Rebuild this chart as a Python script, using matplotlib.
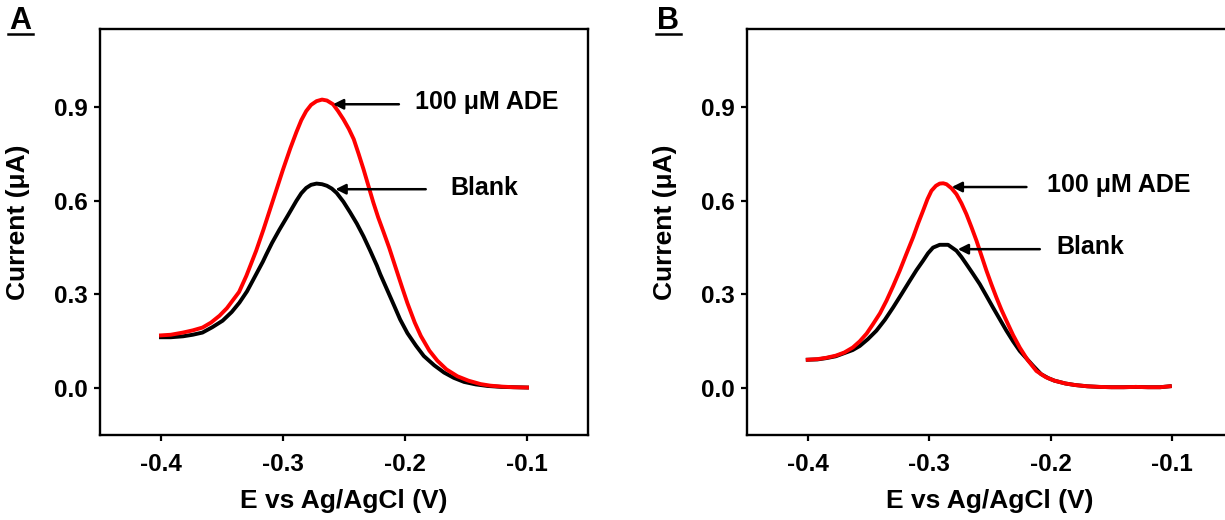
import numpy as np
import matplotlib
matplotlib.use("Agg")
import matplotlib.pyplot as plt
from matplotlib.lines import Line2D

plt.rcParams['font.family'] = ['Liberation Sans', 'DejaVu Sans']
plt.rcParams['font.weight'] = 'bold'
plt.rcParams['axes.unicode_minus'] = False

# ---- panel A data (E in V, current in uA) ----
a_red_x = [-0.400, -0.392, -0.382, -0.374, -0.366, -0.359, -0.352, -0.346, -0.341,
           -0.336, -0.330, -0.322, -0.316, -0.311, -0.305, -0.300, -0.294, -0.289,
           -0.285, -0.281, -0.277, -0.2725, -0.268, -0.264, -0.259, -0.255, -0.2505,
           -0.246, -0.242, -0.238, -0.234, -0.230, -0.226, -0.222, -0.2175, -0.213,
           -0.209, -0.2055, -0.2024, -0.198, -0.192, -0.187, -0.180, -0.1735, -0.166,
           -0.157, -0.148, -0.138, -0.130, -0.121, -0.111, -0.100]
a_red_y = [0.169, 0.171, 0.178, 0.185, 0.194, 0.210, 0.232, 0.256, 0.282,
           0.308, 0.360, 0.440, 0.508, 0.568, 0.640, 0.700, 0.768, 0.820,
           0.858, 0.887, 0.907, 0.919, 0.924, 0.921, 0.909, 0.888, 0.861,
           0.830, 0.797, 0.750, 0.701, 0.648, 0.595, 0.547, 0.499, 0.450,
           0.402, 0.360, 0.323, 0.272, 0.210, 0.167, 0.120, 0.088, 0.060,
           0.038, 0.024, 0.013, 0.008, 0.005, 0.003, 0.002]

a_blk_x = [-0.400, -0.392, -0.382, -0.374, -0.366, -0.358, -0.3495, -0.342, -0.3357,
           -0.3295, -0.3247, -0.3165, -0.3137, -0.309, -0.303, -0.296, -0.289, -0.285,
           -0.281, -0.277, -0.2725, -0.268, -0.264, -0.260, -0.256, -0.2505, -0.245,
           -0.2395, -0.234, -0.2285, -0.223, -0.2203, -0.216, -0.209, -0.204, -0.198,
           -0.191, -0.1846, -0.176, -0.168, -0.160, -0.1516, -0.142, -0.1323, -0.121,
           -0.111, -0.100]
a_blk_y = [0.163, 0.163, 0.166, 0.171, 0.178, 0.195, 0.216, 0.244, 0.274,
           0.310, 0.345, 0.405, 0.428, 0.465, 0.507, 0.553, 0.600, 0.624,
           0.641, 0.651, 0.655, 0.653, 0.648, 0.639, 0.625, 0.597, 0.563,
           0.527, 0.486, 0.440, 0.392, 0.365, 0.327, 0.265, 0.220, 0.176,
           0.136, 0.103, 0.073, 0.050, 0.033, 0.020, 0.012, 0.007, 0.004,
           0.003, 0.002]

# ---- panel B data ----
b_red_x = [-0.400, -0.392, -0.385, -0.377, -0.370, -0.363, -0.3572, -0.3515, -0.3463,
           -0.3405, -0.3352, -0.3297, -0.3243, -0.3188, -0.3133, -0.3092, -0.3051, -0.3015,
           -0.2982, -0.2945, -0.2914, -0.2885, -0.2858, -0.2817, -0.2776, -0.2735, -0.2694,
           -0.2652, -0.2611, -0.2570, -0.2529, -0.2488, -0.2447, -0.2406, -0.2365, -0.231,
           -0.2255, -0.219, -0.2118, -0.204, -0.197, -0.188, -0.180, -0.170, -0.160,
           -0.150, -0.140, -0.130, -0.120, -0.110, -0.102]
b_red_y = [0.091, 0.093, 0.097, 0.104, 0.114, 0.130, 0.150, 0.175, 0.205,
           0.240, 0.280, 0.327, 0.376, 0.430, 0.483, 0.527, 0.568, 0.605,
           0.632, 0.648, 0.655, 0.656, 0.653, 0.640, 0.621, 0.592, 0.557,
           0.515, 0.472, 0.424, 0.376, 0.332, 0.290, 0.251, 0.216, 0.170,
           0.130, 0.090, 0.055, 0.035, 0.024, 0.015, 0.010, 0.006, 0.004,
           0.003, 0.003, 0.004, 0.003, 0.003, 0.006]

b_blk_x = [-0.400, -0.392, -0.385, -0.377, -0.370, -0.363, -0.3572, -0.3505, -0.3435,
           -0.3365, -0.3298, -0.323, -0.316, -0.3105, -0.3051, -0.301, -0.2969, -0.2914,
           -0.2845, -0.2776, -0.2735, -0.2694, -0.264, -0.2584, -0.253, -0.2475, -0.242,
           -0.2365, -0.231, -0.2255, -0.2146, -0.208, -0.202, -0.197, -0.188, -0.180,
           -0.170, -0.160, -0.150, -0.140, -0.130, -0.120, -0.110, -0.102]
b_blk_y = [0.091, 0.092, 0.096, 0.102, 0.112, 0.122, 0.135, 0.157, 0.184,
           0.219, 0.258, 0.300, 0.344, 0.378, 0.408, 0.432, 0.450, 0.459,
           0.459, 0.440, 0.420, 0.397, 0.366, 0.333, 0.296, 0.258, 0.221,
           0.184, 0.150, 0.119, 0.072, 0.045, 0.032, 0.024, 0.015, 0.010,
           0.006, 0.004, 0.003, 0.003, 0.004, 0.003, 0.003, 0.006]

xticks = [-0.4, -0.3, -0.2, -0.1]
yticks = [0.0, 0.3, 0.6, 0.9]
xlabel = 'E vs Ag/AgCl (V)'
ylabel = 'Current (\u03bcA)'
label_ade = '100 \u03bcM ADE'
label_blank = 'Blank'

# annotations: (text, text pos, arrow tip, arrow tail)
a_notes = [(label_ade, (-0.1914, 0.915), (-0.259, 0.909), (-0.205, 0.909)),
           (label_blank, (-0.1626, 0.642), (-0.257, 0.637), (-0.183, 0.637))]
b_notes = [(label_ade, (-0.2033, 0.650), (-0.2815, 0.644), (-0.220, 0.644)),
           (label_blank, (-0.195, 0.452), (-0.2765, 0.445), (-0.209, 0.445))]

fig = plt.figure(figsize=(12.25, 5.2), dpi=100)
ax_a = fig.add_axes([100 / 1225, 1 - 435 / 520, 488 / 1225, 406 / 520])
ax_b = fig.add_axes([747 / 1225, 1 - 435 / 520, 486 / 1225, 406 / 520])


def style_axes(ax):
    ax.set_xlim(-0.45, -0.05)
    ax.set_ylim(-0.15, 1.15)
    ax.set_xticks(xticks)
    ax.set_yticks(yticks)
    ax.set_xticklabels([f'{t:.1f}' for t in xticks])
    ax.set_yticklabels([f'{t:.1f}' for t in yticks])
    for s in ax.spines.values():
        s.set_linewidth(1.7)
    ax.tick_params(direction='out', length=4, width=1.6, labelsize=17.5)
    ax.tick_params(axis='x', pad=9)
    ax.tick_params(axis='y', pad=5)
    for lab in ax.get_xticklabels() + ax.get_yticklabels():
        lab.set_fontweight('bold')
    ax.set_xlabel(xlabel, fontsize=19, fontweight='bold')
    ax.set_ylabel(ylabel, fontsize=19, fontweight='bold')
    ax.xaxis.set_label_coords(0.5, -0.162)
    ax.xaxis.label.set_va('center')
    ax.yaxis.set_label_coords(-0.168, 0.525)
    ax.yaxis.label.set_va('center')


def annotate(ax, notes):
    for text, pos, tip, tail in notes:
        ax.annotate('', xy=tip, xytext=tail,
                    arrowprops=dict(arrowstyle='-|>', color='black', lw=1.8,
                                    mutation_scale=15, shrinkA=0, shrinkB=0))
        ax.text(pos[0], pos[1], text, fontsize=18, fontweight='bold',
                va='center', ha='left')


ax_a.plot(a_blk_x, a_blk_y, color='black', lw=2.8)
ax_a.plot(a_red_x, a_red_y, color='#ff0000', lw=2.8)
style_axes(ax_a)
annotate(ax_a, a_notes)

ax_b.plot(b_blk_x, b_blk_y, color='black', lw=2.8)
ax_b.plot(b_red_x, b_red_y, color='#ff0000', lw=2.8)
style_axes(ax_b)
annotate(ax_b, b_notes)

# panel letters, underlined
for letter, x0 in [('A', 9), ('B', 657)]:
    fig.text(x0 / 1225, 1 - 21 / 520, letter, fontsize=22, fontweight='bold',
             va='center', ha='left')
    fig.add_artist(Line2D([(x0 - 1) / 1225, (x0 + 24) / 1225], [1 - 34 / 520, 1 - 34 / 520],
                          transform=fig.transFigure, color='black', lw=1.8))

fig.savefig('out.png', dpi=100)
